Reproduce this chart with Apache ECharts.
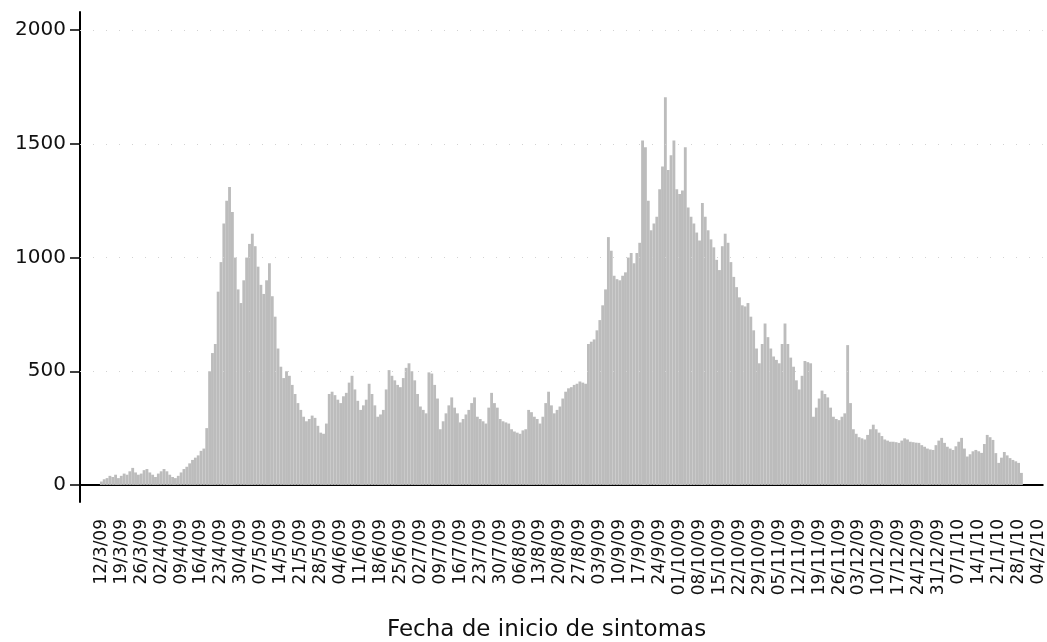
<!DOCTYPE html>
<html>
<head>
<meta charset="utf-8">
<script src="https://cdn.jsdelivr.net/npm/echarts@6/dist/echarts.min.js"></script>
<style>
  html, body { margin: 0; padding: 0; background: #fff; }
  #main { width: 1047px; height: 642px; }
</style>
</head>
<body>
<div id="main"></div>
<script>
// casos diarios desde 12/3/09 (un valor por dia)
var casosDiarios = [
    15, 25, 30, 40, 35, 45, 30, 40, 50, 45, 60, 75, 55, 45, 50, 65, 70, 55, 45, 35,
    50, 60, 70, 60, 45, 35, 30, 40, 55, 70, 80, 95, 110, 120, 130, 150, 160, 250, 500, 580,
    620, 850, 980, 1150, 1250, 1310, 1200, 1000, 860, 800, 900, 1000, 1060, 1105, 1050, 960, 880, 840, 900, 975,
    830, 740, 600, 520, 470, 500, 480, 440, 400, 360, 330, 300, 280, 290, 305, 295, 260, 230, 225, 270,
    400, 410, 395, 375, 360, 390, 405, 450, 480, 420, 370, 330, 350, 375, 445, 400, 350, 300, 310, 330,
    420, 505, 480, 460, 440, 430, 470, 515, 535, 500, 460, 400, 345, 330, 315, 495, 490, 440, 380, 245,
    280, 315, 350, 385, 340, 315, 275, 290, 310, 330, 360, 385, 300, 290, 280, 270, 340, 405, 360, 340,
    290, 280, 275, 270, 245, 235, 230, 225, 240, 245, 330, 320, 300, 290, 270, 300, 360, 410, 350, 315,
    330, 345, 380, 410, 425, 430, 440, 445, 455, 450, 445, 620, 630, 640, 680, 725, 790, 860, 1090, 1030,
    920, 905, 900, 920, 935, 1000, 1020, 975, 1020, 1065, 1515, 1485, 1250, 1120, 1150, 1180, 1300, 1400, 1705, 1385,
    1450, 1515, 1300, 1280, 1295, 1485, 1220, 1180, 1150, 1110, 1075, 1240, 1180, 1120, 1080, 1045, 990, 945, 1050, 1105,
    1065, 980, 915, 870, 825, 790, 785, 800, 740, 680, 600, 535, 620, 710, 650, 600, 565, 550, 535, 620,
    710, 620, 560, 520, 460, 420, 480, 545, 540, 535, 300, 340, 380, 415, 400, 385, 340, 300, 290, 285,
    300, 315, 615, 360, 245, 225, 210, 205, 200, 220, 245, 265, 245, 230, 215, 200, 195, 190, 190, 188,
    185, 195, 205, 200, 190, 188, 186, 185, 175, 168, 160, 156, 154, 175, 195, 207, 185, 168, 160, 154,
    170, 190, 207, 160, 125, 135, 148, 154, 148, 141, 180, 220, 210, 198, 140, 97, 120, 145, 130, 118,
    110, 104, 97, 53
];

// etiquetas semanales del eje X
var etiquetasSemanales = [
    '12/3/09', '19/3/09', '26/3/09', '02/4/09', '09/4/09', '16/4/09', '23/4/09', '30/4/09',
    '07/5/09', '14/5/09', '21/5/09', '28/5/09', '04/6/09', '11/6/09', '18/6/09', '25/6/09',
    '02/7/09', '09/7/09', '16/7/09', '23/7/09', '30/7/09', '06/8/09', '13/8/09', '20/8/09',
    '27/8/09', '03/9/09', '10/9/09', '17/9/09', '24/9/09', '01/10/09', '08/10/09', '15/10/09',
    '22/10/09', '29/10/09', '05/11/09', '12/11/09', '19/11/09', '26/11/09', '03/12/09', '10/12/09',
    '17/12/09', '24/12/09', '31/12/09', '07/1/10', '14/1/10', '21/1/10', '28/1/10', '04/2/10'
];

var ticksY = [0, 500, 1000, 1500, 2000];
var diasAntes = 7;      // dias vacios antes del 12/3/09
var diasTotales = 338;  // 05/3/09 .. 05/2/10

var chartDom = document.getElementById('main');
var chart = echarts.init(chartDom, null, {renderer: 'canvas'});

var dias = [];
for (var i = 0; i < diasTotales; i++) {
    dias.push(String(i - diasAntes));
}
var serie = [];
for (var i = 0; i < diasAntes; i++) serie.push(null);
for (var v of casosDiarios) serie.push(v);

var esSemana = index => index >= diasAntes && (index - diasAntes) % 7 === 0;

var fuente = 'DejaVu Sans';

var option = {
    animation: false,
    backgroundColor: '#fff',
    title: {
        text: 'Fecha de inicio de sintomas',
        left: 382,
        top: 614,
        textStyle: {
            fontFamily: fuente,
            fontSize: 23,
            fontWeight: 'normal',
            color: '#111'
        }
    },
    grid: {
        left: 80,
        right: 0,
        top: 12,
        bottom: 140
    },
    xAxis: {
        type: 'category',
        data: dias,
        boundaryGap: true,
        axisLine: {lineStyle: {color: '#000', width: 2}},
        axisTick: {
            alignWithLabel: true,
            interval: esSemana,
            length: 10,
            lineStyle: {color: '#000', width: 1.5}
        },
        axisLabel: {
            interval: esSemana,
            rotate: 90,
            margin: 17,
            fontFamily: fuente,
            fontSize: 17,
            color: '#111',
            formatter: (value, index) => etiquetasSemanales[(index - diasAntes) / 7] || ''
        },
        splitLine: {show: false}
    },
    yAxis: {
        type: 'value',
        min: -75,
        max: 2080,
        axisLine: {show: true, lineStyle: {color: '#000', width: 2}},
        axisTick: {
            show: true,
            customValues: ticksY,
            length: 10,
            lineStyle: {color: '#000', width: 1.5}
        },
        axisLabel: {
            customValues: ticksY,
            margin: 14,
            fontFamily: fuente,
            fontSize: 20,
            color: '#111',
            formatter: v => String(v)
        },
        splitLine: {show: false}
    },
    series: [
        {
            type: 'bar',
            data: serie,
            barCategoryGap: '0%',
            itemStyle: {color: '#bcbcbc'},
            markLine: {
                silent: true,
                symbol: 'none',
                label: {show: false},
                lineStyle: {color: '#d2d2d2', type: [1, 12], width: 1},
                data: ticksY.slice(1).map(v => ({yAxis: v}))
            }
        }
    ]
};
chart.setOption(option);
</script>
</body>
</html>
